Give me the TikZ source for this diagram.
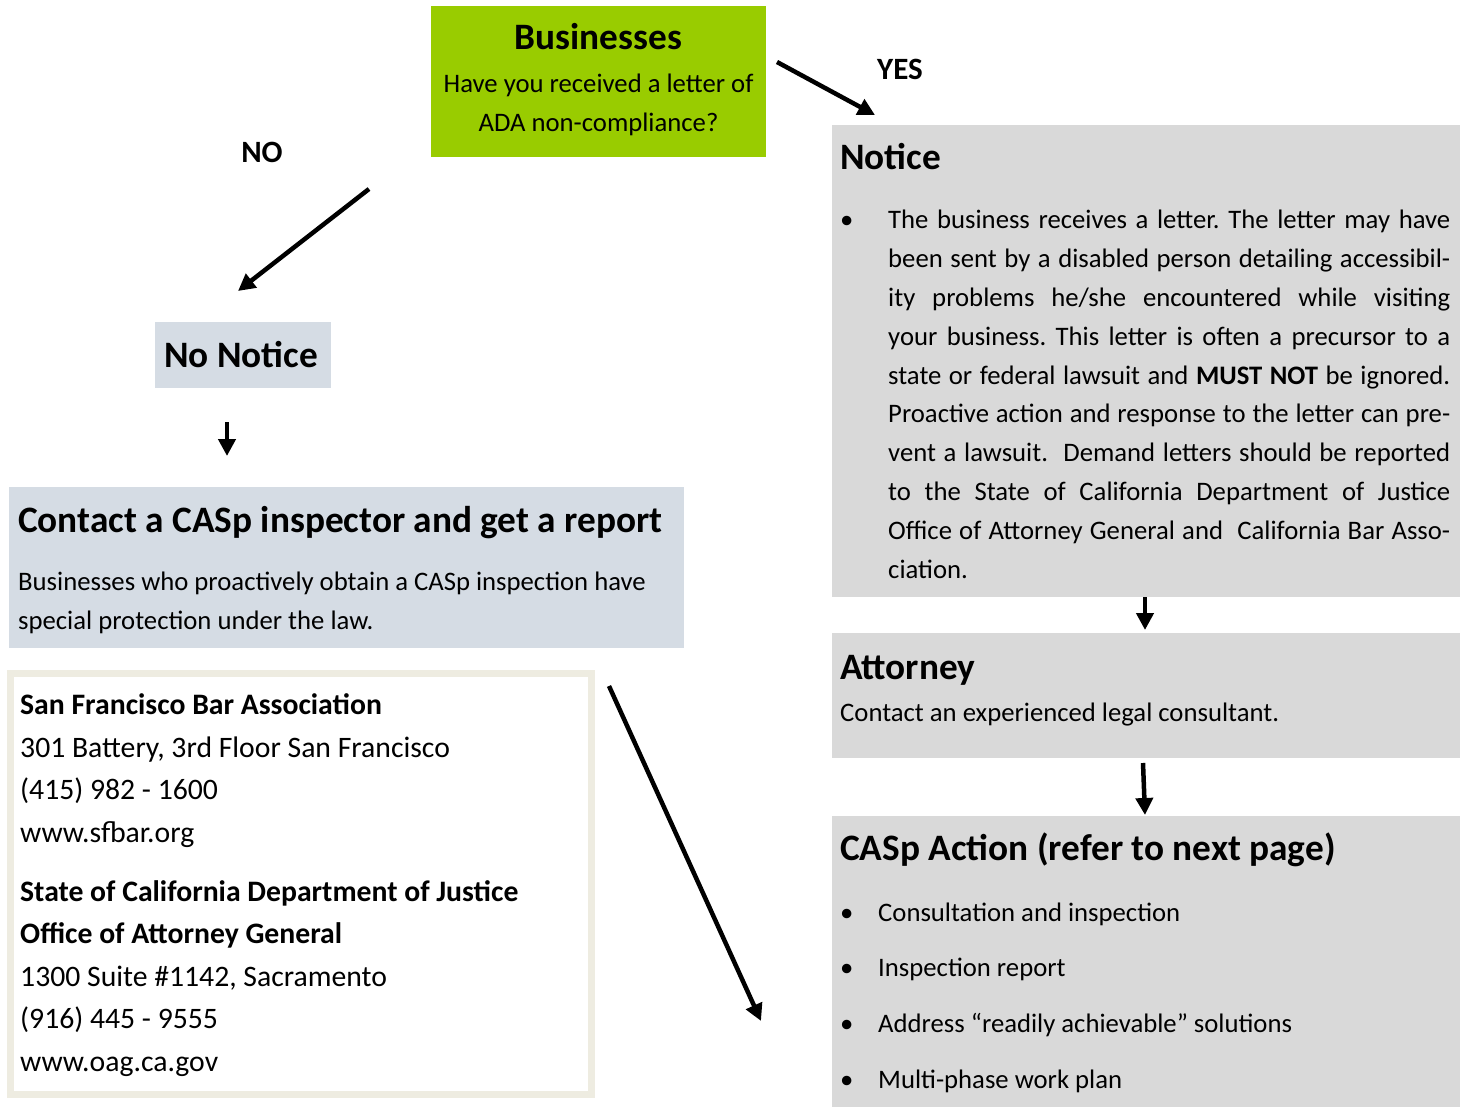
\documentclass[tikz,border=0pt]{standalone}
\usepackage{fontspec}
\setmainfont{Carlito}
\usetikzlibrary{arrows.meta}
\definecolor{bizgreen}{HTML}{99CC00}
\definecolor{bluegray}{HTML}{D5DCE4}
\definecolor{boxgray}{HTML}{D9D9D9}
\definecolor{framebeige}{HTML}{EEECE1}
\newcommand\jline[1]{\hbox to 562pt{#1}}
\begin{document}
\frenchspacing
\begin{tikzpicture}[x=1pt,y=-1pt,
  arr/.style={line width=4.5pt,-{Triangle[length=17pt,width=17pt]}},
  panel/.style={anchor=north west,inner sep=0,outer sep=0},
  txt/.style={anchor=base west,inner sep=0,font=\fontsize{26.7}{38.8}\selectfont},
  head/.style={anchor=base west,inner sep=0,font=\fontsize{37.3}{40}\selectfont\bfseries},
  addr/.style={anchor=base west,inner sep=0,font=\fontsize{29.7}{32}\selectfont},
  addrb/.style={addr,font=\fontsize{29.7}{32}\selectfont\bfseries},
  lab/.style={anchor=base,inner sep=0,font=\fontsize{31}{34}\selectfont\bfseries}]
\useasboundingbox (0,0) rectangle (1465,1107);
% boxes
\node[panel,fill=bizgreen,minimum width=335pt,minimum height=151pt] (biz) at (431,6) {};
\node[panel,fill=bluegray,minimum width=176pt,minimum height=66pt] (nonotice) at (155,322) {};
\node[panel,fill=bluegray,minimum width=675pt,minimum height=161pt] (contact) at (9,487) {};
\node[panel,draw=framebeige,line width=7pt,fill=white,minimum width=581pt,minimum height=421pt] (addrbox) at (10.5,673.5) {};
\node[panel,fill=boxgray,minimum width=628pt,minimum height=472pt] (notice) at (832,125) {};
\node[panel,fill=boxgray,minimum width=628pt,minimum height=125pt] (attorney) at (832,633) {};
\node[panel,fill=boxgray,minimum width=628pt,minimum height=291pt] (casp) at (832,816) {};
% Businesses
\node[anchor=base,inner sep=0,font=\fontsize{37.3}{40}\selectfont\bfseries] (bizh) at (598.5,50) {Businesses};
\node[anchor=base,inner sep=0,font=\fontsize{26.7}{38.8}\selectfont] (bizq1) at (598.5,93) {Have you received a letter of};
\node[anchor=base,inner sep=0,font=\fontsize{26.7}{38.8}\selectfont] (bizq2) at (598.5,132) {ADA non-compliance?};
% labels
\node[lab] (yes) at (900,80) {YES};
\node[lab] (no) at (262,163) {NO};
% No notice
\node[head] (nonoticet) at (164,367) {No Notice};
% Contact
\node[head] (contacth) at (18,532) {Contact a CASp inspector and get a report};
\node[txt] (contact1) at (18,590) {Businesses who proactively obtain a CASp inspection have};
\node[txt] (contact2) at (18,629) {special protection under the law.};
% Address
\node[addrb] (a1) at (20,714) {San Francisco Bar Association};
\node[addr] (a2) at (20,757) {301 Battery, 3rd Floor San Francisco};
\node[addr] (a3) at (20,799) {(415) 982 - 1600};
\node[addr] (a4) at (20,842) {www.sfbar.org};
\node[addrb] (a5) at (20,901) {State of California Department of Justice};
\node[addrb] (a6) at (20,943) {Office of Attorney General};
\node[addr] (a7) at (20,986) {1300 Suite \#1142, Sacramento};
\node[addr] (a8) at (20,1028) {(916) 445 - 9555};
\node[addr] (a9) at (20,1071) {www.oag.ca.gov};
% Notice
\node[head] (noticeh) at (840,170) {Notice};
\node[txt] (nb) at (840,229) {\textbullet};
\node[txt] (noticep) at (888,229) {\parbox[t]{562pt}{\fontsize{26.7}{38.8}\selectfont
\jline{The business receives a letter. The letter may have}
\jline{been sent by a disabled person detailing accessibil-}
\jline{ity problems he/she encountered while visiting}
\jline{your business. This letter is often a precursor to a}
\jline{state or federal lawsuit and \textbf{MUST NOT} be ignored.}
\jline{Proactive action and response to the letter can pre-}
\jline{vent a lawsuit.\ \ Demand letters should be reported}
\jline{to the State of California Department of Justice}
\jline{Office of Attorney General and\ \ California Bar Asso-}
\hbox{ciation.}}};
% Attorney
\node[head] (attorneyh) at (840,679) {Attorney};
\node[txt] (attorneyt) at (840,721) {Contact an experienced legal consultant.};
% CASp Action
\node[head] (casph) at (840,860) {CASp Action (refer to next page)};
\node[txt] (cb1) at (840,921) {\textbullet};
\node[txt] (c1) at (878,921) {Consultation and inspection};
\node[txt] (cb2) at (840,976) {\textbullet};
\node[txt] (c2) at (878,976) {Inspection report};
\node[txt] (cb3) at (840,1032) {\textbullet};
\node[txt] (c3) at (878,1032) {Address “readily achievable” solutions};
\node[txt] (cb4) at (840,1088) {\textbullet};
\node[txt] (c4) at (878,1088) {Multi-phase work plan};
% arrow coordinates
\coordinate (y0) at (777,62);
\coordinate (y1) at (875,115);
\coordinate (n0) at (369,189);
\coordinate (n1) at (238,291);
\coordinate (s0) at (227,422);
\coordinate (s1) at (227,456);
\coordinate (l0) at (609,686);
\coordinate (l1) at (761,1021);
\coordinate (t0) at (1145,597);
\coordinate (t1) at (1145,630);
\coordinate (u0) at (1143,763);
\coordinate (u1) at (1145,815);
\draw[arr] (y0) -- (y1);
\draw[arr] (n0) -- (n1);
\draw[arr] (s0) -- (s1);
\draw[arr] (l0) -- (l1);
\draw[arr] (t0) -- (t1);
\draw[arr] (u0) -- (u1);
\end{tikzpicture}
\end{document}
